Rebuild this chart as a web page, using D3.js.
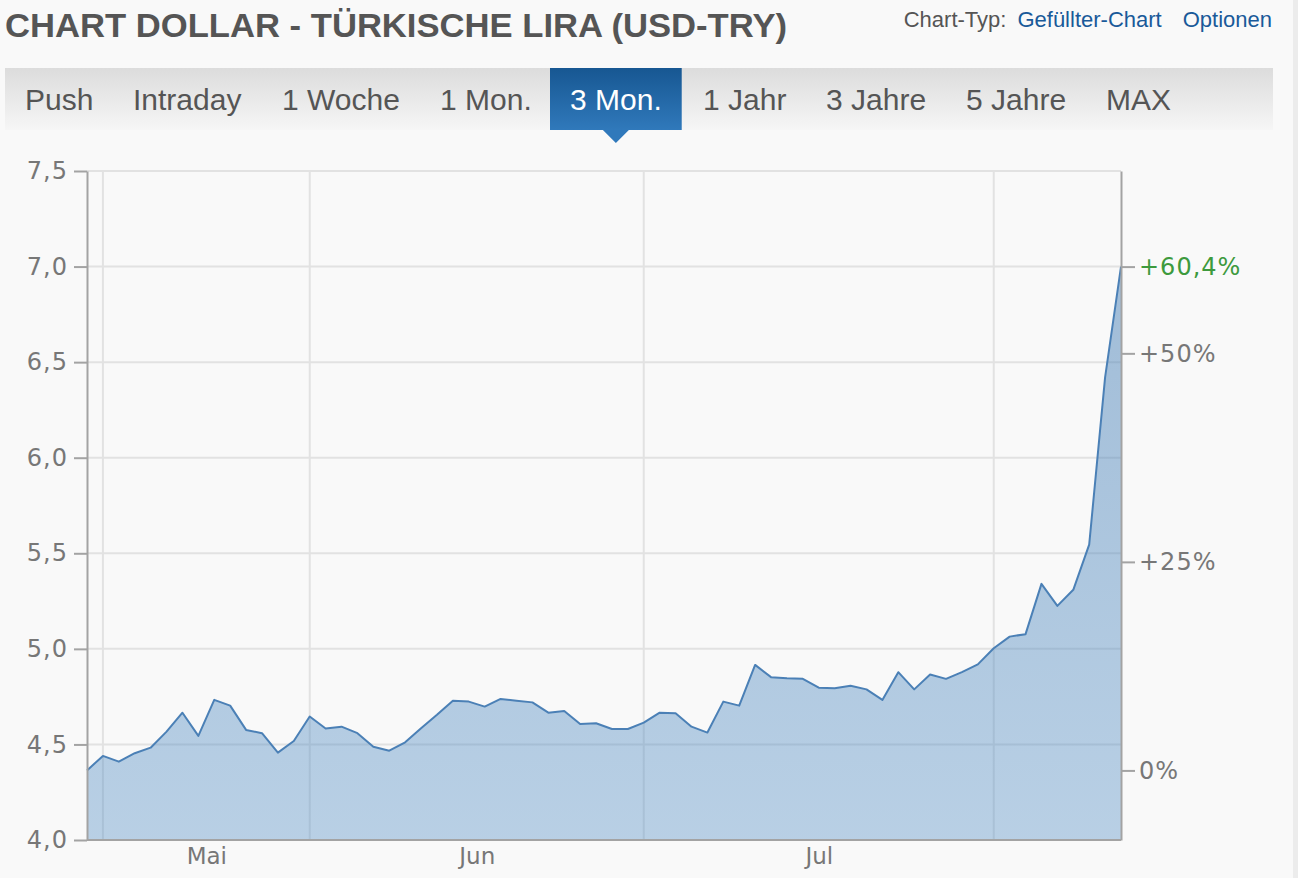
<!DOCTYPE html>
<html>
<head>
<meta charset="utf-8">
<script src="https://cdn.jsdelivr.net/npm/d3@7"></script>
<style>
  html, body { margin: 0; padding: 0; background: #f9f9f9; }
  svg { display: block; }
</style>
</head>
<body>
<div class="chart"></div>
<script>
// USD-TRY closing values, one per trading day (3 months)
const rates = [
  4.364, 4.44, 4.41, 4.454, 4.483, 4.567, 4.666, 4.545, 4.733, 4.703,
  4.576, 4.559, 4.457, 4.518, 4.646, 4.583, 4.593, 4.559, 4.488, 4.467,
  4.511, 4.585, 4.655, 4.729, 4.724, 4.698, 4.738, 4.729, 4.72, 4.666,
  4.675, 4.607, 4.611, 4.581, 4.581, 4.614, 4.666, 4.663, 4.593, 4.562,
  4.724, 4.703, 4.916, 4.852, 4.846, 4.843, 4.797, 4.794, 4.807, 4.788,
  4.733, 4.878, 4.788, 4.866, 4.843, 4.878, 4.919, 5.003, 5.064, 5.077,
  5.34, 5.225, 5.309, 5.545, 6.42, 7.0
]
// index of the first trading day of each month
const monthStarts = [1, 14, 35, 57]
const monthNames = ['Mai', 'Jun', 'Jul']
const yTicks = [4.0, 4.5, 5.0, 5.5, 6.0, 6.5, 7.0, 7.5]
const pctTicks = [0, 25, 50]
const tabs = ['Push', 'Intraday', '1 Woche', '1 Mon.', '3 Mon.', '1 Jahr', '3 Jahre', '5 Jahre', 'MAX']
const activeTab = '3 Mon.'

const width = 1298
const height = 878
const plot = { left: 87, right: 1121, top: 171, bottom: 840 }

const svg = d3.select('.chart')
  .append('svg')
  .attr('width', width)
  .attr('height', height)

svg.append('rect').attr('width', width).attr('height', height).attr('fill', '#f9f9f9')

const defs = svg.append('defs')
const barGrad = defs.append('linearGradient').attr('id', 'bar-grad').attr('x1', 0).attr('y1', 0).attr('x2', 0).attr('y2', 1)
barGrad.append('stop').attr('offset', '0%').attr('stop-color', '#dcdcdc')
barGrad.append('stop').attr('offset', '100%').attr('stop-color', '#f6f6f6')
const tabGrad = defs.append('linearGradient').attr('id', 'tab-grad').attr('x1', 0).attr('y1', 0).attr('x2', 0).attr('y2', 1)
tabGrad.append('stop').attr('offset', '0%').attr('stop-color', '#175792')
tabGrad.append('stop').attr('offset', '100%').attr('stop-color', '#3079bb')
const areaGrad = defs.append('linearGradient').attr('id', 'area-grad')
  .attr('gradientUnits', 'userSpaceOnUse')
  .attr('x1', 0).attr('y1', plot.top).attr('x2', 0).attr('y2', plot.bottom)
areaGrad.append('stop').attr('offset', '0%').attr('stop-color', '#3f78b0').attr('stop-opacity', 0.5)
areaGrad.append('stop').attr('offset', '100%').attr('stop-color', '#4f8cc4').attr('stop-opacity', 0.38)

// header
svg.append('text')
  .attr('x', 5).attr('y', 37)
  .attr('font-family', 'Liberation Sans, Arial, sans-serif')
  .attr('font-weight', 'bold')
  .attr('font-size', 34)
  .attr('fill', '#555')
  .attr('textLength', 782)
  .attr('lengthAdjust', 'spacingAndGlyphs')
  .text('CHART DOLLAR - TÜRKISCHE LIRA (USD-TRY)')

const headRight = svg.append('text')
  .attr('x', 1272).attr('y', 27)
  .attr('text-anchor', 'end')
  .attr('font-family', 'Liberation Sans, Arial, sans-serif')
  .attr('font-size', 22)
headRight.append('tspan').attr('fill', '#555').text('Chart-Typ:')
headRight.append('tspan').attr('fill', '#1a5a99').attr('dx', 11).text('Gefüllter-Chart')
headRight.append('tspan').attr('fill', '#1a5a99').attr('dx', 21).text('Optionen')

// tab bar
svg.append('rect')
  .attr('x', 5).attr('y', 68).attr('width', 1268).attr('height', 62)
  .attr('fill', 'url(#bar-grad)')

const tabX = [25, 133, 282, 440, 570, 703, 826, 966, 1106]
const tabG = svg.append('g')
  .attr('font-family', 'Liberation Sans, Arial, sans-serif')
  .attr('font-size', 30)

tabG.selectAll('g')
  .data(tabs)
  .join('g')
  .each(function (d, i) {
    const g = d3.select(this)
    const t = g.append('text')
      .attr('x', tabX[i]).attr('y', 110)
      .attr('fill', d === activeTab ? '#fff' : '#555')
      .text(d)
    if (d === activeTab) {
      const w = t.node().getComputedTextLength()
      const cx = tabX[i] + w / 2
      g.insert('rect', 'text')
        .attr('x', tabX[i] - 20).attr('y', 68)
        .attr('width', w + 40).attr('height', 62)
        .attr('fill', 'url(#tab-grad)')
      g.append('path')
        .attr('d', `M${cx - 13},130 L${cx + 13},130 L${cx},143 Z`)
        .attr('fill', '#3079bb')
    }
  })

// scales
const x = d3.scaleLinear().domain([0, rates.length - 1]).range([plot.left, plot.right])
const y = d3.scaleLinear().domain([4.0, 7.5]).range([plot.bottom, plot.top])
const base = rates[0]
const pct = d3.scaleLinear()
  .domain([(4.0 / base - 1) * 100, (7.5 / base - 1) * 100])
  .range([plot.bottom, plot.top])

// grid
const grid = svg.append('g').attr('stroke', '#e2e2e2').attr('stroke-width', 2)
grid.selectAll('.h')
  .data(yTicks.slice(1))
  .join('line')
  .attr('x1', plot.left).attr('x2', plot.right)
  .attr('y1', d => y(d)).attr('y2', d => y(d))
grid.selectAll('.v')
  .data(monthStarts)
  .join('line')
  .attr('x1', d => x(d)).attr('x2', d => x(d))
  .attr('y1', plot.top).attr('y2', plot.bottom)

// area + line
const area = d3.area()
  .x((d, i) => x(i))
  .y0(y(4.0))
  .y1(d => y(d))
const line = d3.line()
  .x((d, i) => x(i))
  .y(d => y(d))

svg.append('path')
  .datum(rates)
  .attr('d', area)
  .attr('fill', 'url(#area-grad)')

svg.append('path')
  .datum(rates)
  .attr('d', line)
  .attr('fill', 'none')
  .attr('stroke', '#4b80b6')
  .attr('stroke-width', 2)
  .attr('stroke-linejoin', 'round')

// axes
const comma = d => d.toFixed(1).replace('.', ',')
const axisFont = 'DejaVu Sans, Verdana, sans-serif'

const yAxis = svg.append('g')
  .attr('transform', `translate(${plot.left},0)`)
  .call(d3.axisLeft(y).tickValues(yTicks).tickSize(13).tickSizeOuter(0).tickPadding(6).tickFormat(comma))

const lastPct = (rates[rates.length - 1] / base - 1) * 100
const rAxis = svg.append('g')
  .attr('transform', `translate(${plot.right},0)`)
  .call(d3.axisRight(pct).tickValues(pctTicks.concat([+lastPct.toFixed(1)])).tickSize(14).tickSizeOuter(0).tickPadding(4)
    .tickFormat(d => d === 0 ? '0%' : '+' + String(d).replace('.', ',') + '%'))

const xAxis = svg.append('g')
  .attr('transform', `translate(0,${plot.bottom})`)
  .call(d3.axisBottom(x)
    .tickValues(monthNames.map((m, i) => (monthStarts[i] + monthStarts[i + 1]) / 2))
    .tickSize(0).tickSizeOuter(0).tickPadding(8)
    .tickFormat((d, i) => monthNames[i]))

for (const ax of [yAxis, rAxis, xAxis]) {
  ax.attr('font-family', axisFont).attr('font-size', 24)
  ax.select('.domain').attr('stroke', '#a3a3a3').attr('stroke-width', 2)
  ax.selectAll('.tick line').attr('stroke', '#a3a3a3').attr('stroke-width', 2)
  ax.selectAll('.tick text').attr('fill', '#777').attr('letter-spacing', 1)
}
xAxis.attr('font-size', 23).selectAll('.tick text').attr('letter-spacing', 0)
rAxis.selectAll('.tick text').filter(d => d > 55).attr('fill', '#3d9a3d')
xAxis.select('.domain').attr('d', `M${plot.left},0H${plot.right}`)

// right strip of the page
svg.append('rect').attr('x', 1293).attr('y', 0).attr('width', 5).attr('height', height).attr('fill', '#ececec')
</script>
</body>
</html>
